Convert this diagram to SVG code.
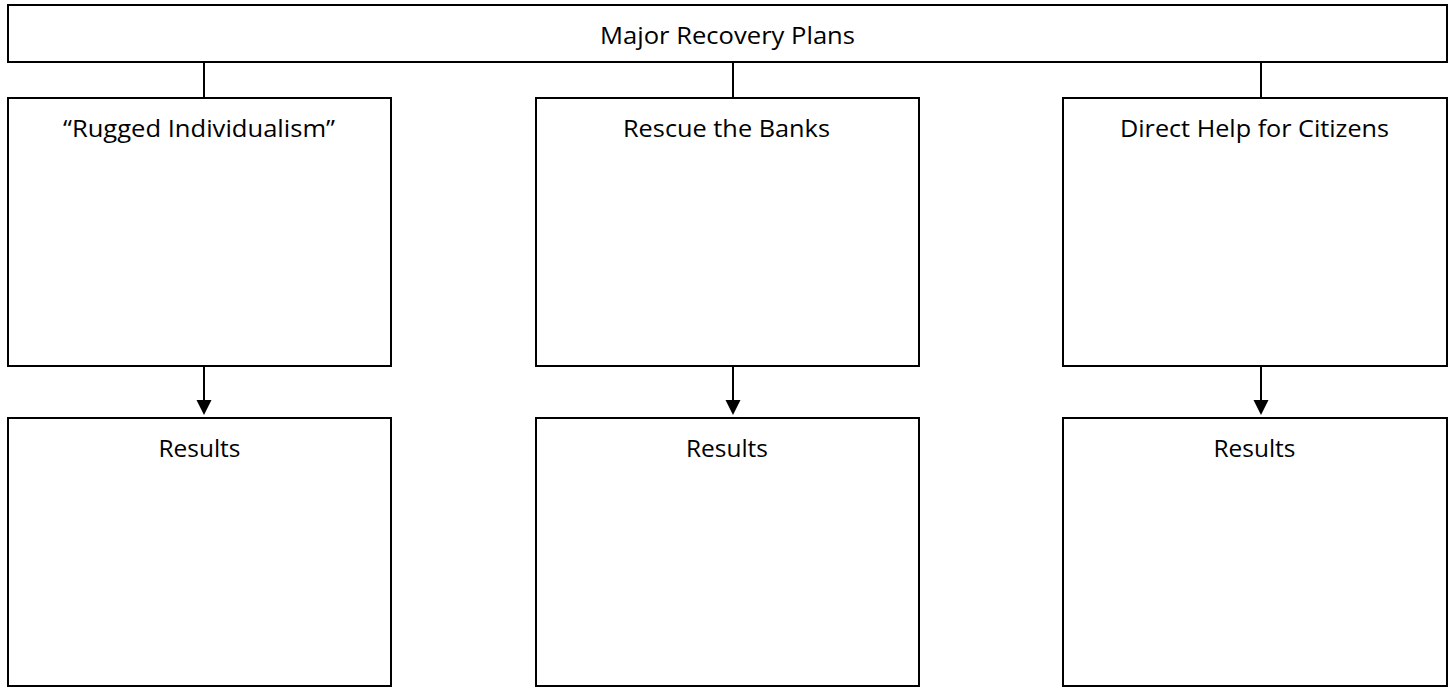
<svg xmlns="http://www.w3.org/2000/svg" width="1453" height="687" viewBox="0 0 1453 687">
<defs>
<style>
.box{fill:#fff;stroke:#000;stroke-width:2}
.ln{fill:none;stroke:#000;stroke-width:2}
.t{font-family:"Open Sans","Liberation Sans",sans-serif;font-size:24.5px;fill:#000;text-anchor:middle}
</style>
</defs>
<rect width="1453" height="687" fill="#fff"/>
<g id="connectors">
<line class="ln" x1="204" y1="62" x2="204" y2="98"/>
<line class="ln" x1="733" y1="62" x2="733" y2="98"/>
<line class="ln" x1="1261" y1="62" x2="1261" y2="98"/>
<line class="ln" x1="204" y1="366" x2="204" y2="401"/>
<path d="M196.5,400 L211.5,400 L204,415 Z" fill="#000"/>
<line class="ln" x1="733" y1="366" x2="733" y2="401"/>
<path d="M725.5,400 L740.5,400 L733,415 Z" fill="#000"/>
<line class="ln" x1="1261" y1="366" x2="1261" y2="401"/>
<path d="M1253.5,400 L1268.5,400 L1261,415 Z" fill="#000"/>
</g>
<g id="top">
<rect class="box" x="8" y="5" width="1439" height="57"/>
<text class="t" x="727.5" y="44" textLength="255" lengthAdjust="spacingAndGlyphs">Major Recovery Plans</text>
</g>
<g id="n1">
<rect class="box" x="8" y="98" width="383" height="268"/>
<text class="t" x="199" y="137" textLength="272" lengthAdjust="spacingAndGlyphs">“Rugged Individualism”</text>
</g>
<g id="n2">
<rect class="box" x="536" y="98" width="383" height="268"/>
<text class="t" x="726.5" y="137" textLength="207" lengthAdjust="spacingAndGlyphs">Rescue the Banks</text>
</g>
<g id="n3">
<rect class="box" x="1063" y="98" width="384" height="268"/>
<text class="t" x="1254.5" y="137" textLength="269" lengthAdjust="spacingAndGlyphs">Direct Help for Citizens</text>
</g>
<g id="r1">
<rect class="box" x="8" y="418" width="383" height="268"/>
<text class="t" x="199.5" y="457" textLength="82" lengthAdjust="spacingAndGlyphs">Results</text>
</g>
<g id="r2">
<rect class="box" x="536" y="418" width="383" height="268"/>
<text class="t" x="727" y="457" textLength="82" lengthAdjust="spacingAndGlyphs">Results</text>
</g>
<g id="r3">
<rect class="box" x="1063" y="418" width="384" height="268"/>
<text class="t" x="1254.5" y="457" textLength="82" lengthAdjust="spacingAndGlyphs">Results</text>
</g>
</svg>
